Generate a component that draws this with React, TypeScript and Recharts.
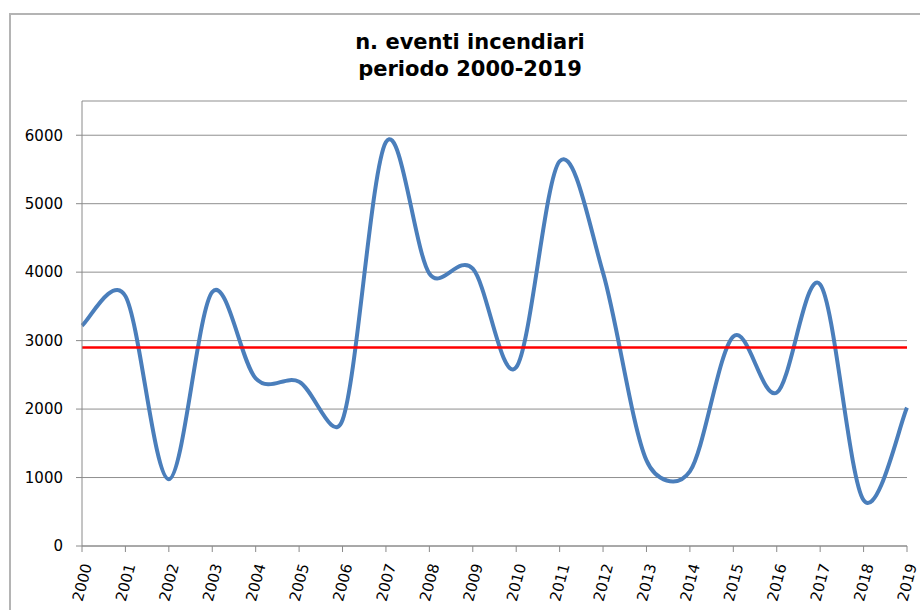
import { CartesianGrid, Line, LineChart, ReferenceLine, XAxis, YAxis } from "recharts";

const years = [
  "2000", "2001", "2002", "2003", "2004", "2005", "2006", "2007", "2008", "2009",
  "2010", "2011", "2012", "2013", "2014", "2015", "2016", "2017", "2018", "2019",
];
const eventi = [
  3220, 3650, 975, 3710, 2450, 2400, 1840, 5900, 3980, 4050,
  2610, 5620, 3990, 1250, 1090, 3060, 2240, 3820, 670, 2020,
];
const MEDIA = 2900;
const yTicks = [0, 1000, 2000, 3000, 4000, 5000, 6000];

const data = years.map((year, i) => ({ year, eventi: eventi[i] }));

// excel "smoothed line": bezier segments, 1/6 tangent arms clamped to half the segment
const excelCurve = (context: any) => {
  let pts: number[][] = [];
  const dist = (a: number[], b: number[]) => Math.hypot(b[0] - a[0], b[1] - a[1]);
  return {
    areaStart() {},
    areaEnd() {},
    lineStart() {
      pts = [];
    },
    point(x: number, y: number) {
      pts.push([+x, +y]);
    },
    lineEnd() {
      const n = pts.length;
      if (!n) return;
      context.moveTo(pts[0][0], pts[0][1]);
      for (let i = 0; i < n - 1; i++) {
        const p0 = pts[i - 1] || pts[i];
        const p1 = pts[i];
        const p2 = pts[i + 1];
        const p3 = pts[i + 2] || p2;
        const d02 = dist(p0, p2);
        const d12 = dist(p1, p2);
        const d13 = dist(p1, p3);
        const f0 = d02 / 6 < d12 / 2 ? 1 / 6 : d12 / d02 / 2;
        const f1 = d13 / 6 < d12 / 2 ? 1 / 6 : d12 / d13 / 2;
        context.bezierCurveTo(
          p1[0] + (p2[0] - p0[0]) * f0,
          p1[1] + (p2[1] - p0[1]) * f0,
          p2[0] - (p3[0] - p1[0]) * f1,
          p2[1] - (p3[1] - p1[1]) * f1,
          p2[0],
          p2[1]
        );
      }
    },
  };
};

const YearTick = (props: any) => {
  const { x, y, payload } = props;
  return (
    <g transform={`translate(${x + 5},${y + 10})`}>
      <text
        x={0}
        y={0}
        dy="0.35em"
        textAnchor="end"
        transform="rotate(-75)"
        fontFamily="DejaVu Sans, Verdana, sans-serif"
        fontSize={15}
        fill="#000"
      >
        {payload.value}
      </text>
    </g>
  );
};

const App = () => {
  return (
    <div style={{ position: "relative", width: 920, height: 610, overflow: "hidden", background: "#fff" }}>
      <style>{`body{margin:0}`}</style>
      <div
        style={{
          position: "absolute",
          left: 9,
          top: 13,
          width: 1000,
          height: 1000,
          border: "2px solid #b4b4b4",
        }}
      />
      <div
        style={{
          position: "absolute",
          left: 0,
          top: 29,
          width: 940,
          textAlign: "center",
          fontFamily: "DejaVu Sans, Verdana, sans-serif",
          fontWeight: "bold",
          fontSize: 21,
          lineHeight: "27px",
          color: "#000",
        }}
      >
        n. eventi incendiari
        <br />
        periodo 2000-2019
      </div>
      <div style={{ position: "absolute", left: 0, top: 0 }}>
        <LineChart width={920} height={610} data={data} margin={{ top: 101, right: 13, bottom: 0, left: 0 }}>
          <CartesianGrid vertical={false} stroke="#8f8f8f" />
          <XAxis
            dataKey="year"
            interval={0}
            height={64}
            tickSize={6}
            stroke="#8a8a8a"
            tick={<YearTick />}
          />
          <YAxis
            width={82}
            domain={[0, 6500]}
            ticks={yTicks}
            tickSize={6}
            tickMargin={13}
            stroke="#8a8a8a"
            tick={{ fill: "#000", fontSize: 15, fontFamily: "DejaVu Sans, Verdana, sans-serif" }}
          />
          <Line
            dataKey="eventi"
            type={excelCurve as any}
            stroke="#4a7ebb"
            strokeWidth={4}
            dot={false}
            activeDot={false}
            isAnimationActive={false}
          />
          <ReferenceLine y={MEDIA} stroke="#ff0000" strokeWidth={2.5} />
        </LineChart>
      </div>
    </div>
  );
};

export default App;
